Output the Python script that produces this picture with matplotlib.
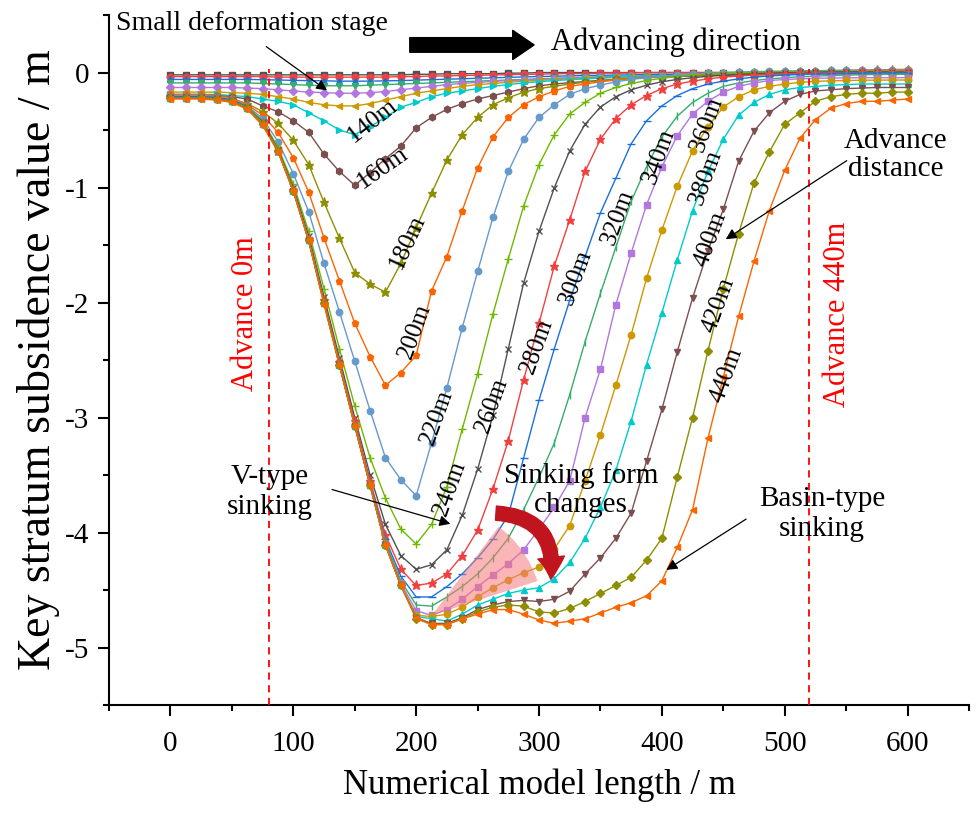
import matplotlib
matplotlib.use("Agg")
import matplotlib.pyplot as plt
import matplotlib.transforms as mtransforms
from matplotlib.patches import Wedge, FancyArrowPatch

plt.rcParams['font.family'] = ['Liberation Serif', 'DejaVu Serif']
plt.rcParams['axes.unicode_minus'] = False

# model length positions (m)
x_model = [0, 12.5, 25, 37.5, 50, 62.5, 75, 87.5, 100, 112.5,
           125, 137.5, 150, 162.5, 175, 187.5, 200, 212.5, 225, 237.5,
           250, 262.5, 275, 287.5, 300, 312.5, 325, 337.5, 350, 362.5,
           375, 387.5, 400, 412.5, 425, 437.5, 450, 462.5, 475, 487.5,
           500, 512.5, 525, 537.5, 550, 562.5, 575, 587.5, 600]

advance = [20, 40, 60, 80, 100, 120, 140, 160, 180, 200, 220,
           240, 260, 280, 300, 320, 340, 360, 380, 400, 420, 440]

s20 = [-0.02, -0.02, -0.02, -0.02, -0.02, -0.02, -0.02, -0.02, -0.02, -0.02,
       -0.02, -0.02, -0.02, -0.02, -0.02, -0.02, -0.015, -0.015, -0.01, -0.01,
       -0.01, -0.01, -0.005, -0.005, 0.0, 0.0, 0.0, 0.0, 0.0, 0.0,
       0.0, 0.0, 0.0, 0.0, 0.0, 0.0, 0.0, 0.0, 0.0, 0.0,
       0.0, 0.0, 0.0, 0.0, 0.0, 0.0, 0.0, 0.0, 0.0]
s40 = [-0.035, -0.035, -0.035, -0.035, -0.035, -0.035, -0.035, -0.04, -0.04, -0.04,
       -0.04, -0.04, -0.04, -0.04, -0.04, -0.035, -0.035, -0.03, -0.03, -0.025,
       -0.025, -0.02, -0.02, -0.015, -0.015, -0.01, -0.01, -0.01, -0.005, -0.005,
       -0.005, 0.0, 0.0, 0.0, 0.0, 0.0, 0.0, 0.0, 0.0, 0.0,
       0.0, 0.0, 0.0, 0.0, 0.0, 0.0, 0.0, 0.0, 0.0]
s60 = [-0.06, -0.06, -0.06, -0.06, -0.06, -0.06, -0.062, -0.065, -0.068, -0.07,
       -0.072, -0.075, -0.075, -0.075, -0.072, -0.07, -0.066, -0.062, -0.058, -0.054,
       -0.05, -0.046, -0.042, -0.038, -0.035, -0.032, -0.029, -0.026, -0.024, -0.022,
       -0.02, -0.018, -0.016, -0.015, -0.014, -0.013, -0.012, -0.011, -0.01, -0.01,
       -0.01, -0.01, -0.009, -0.008, -0.008, -0.007, -0.006, -0.006, -0.005]
s80 = [-0.09, -0.09, -0.09, -0.09, -0.09, -0.09, -0.095, -0.10, -0.105, -0.11,
       -0.115, -0.115, -0.115, -0.11, -0.105, -0.10, -0.095, -0.09, -0.085, -0.08,
       -0.075, -0.07, -0.065, -0.06, -0.055, -0.05, -0.046, -0.042, -0.038, -0.035,
       -0.032, -0.03, -0.028, -0.026, -0.024, -0.022, -0.02, -0.019, -0.018, -0.017,
       -0.016, -0.015, -0.014, -0.013, -0.012, -0.011, -0.01, -0.01, -0.01]
s100 = [-0.13, -0.13, -0.13, -0.13, -0.13, -0.135, -0.14, -0.15, -0.16, -0.17,
        -0.175, -0.18, -0.18, -0.175, -0.165, -0.15, -0.135, -0.12, -0.105, -0.095,
        -0.085, -0.077, -0.07, -0.064, -0.058, -0.053, -0.048, -0.044, -0.04, -0.037,
        -0.034, -0.031, -0.029, -0.027, -0.025, -0.023, -0.021, -0.02, -0.019, -0.018,
        -0.017, -0.016, -0.015, -0.014, -0.013, -0.012, -0.011, -0.01, -0.01]
s120 = [-0.17, -0.17, -0.17, -0.17, -0.175, -0.18, -0.19, -0.21, -0.23, -0.26,
        -0.28, -0.29, -0.29, -0.27, -0.24, -0.21, -0.18, -0.16, -0.14, -0.12,
        -0.105, -0.095, -0.085, -0.075, -0.068, -0.061, -0.055, -0.05, -0.045, -0.041,
        -0.037, -0.034, -0.031, -0.028, -0.026, -0.024, -0.022, -0.02, -0.018, -0.016,
        -0.014, -0.012, -0.01, -0.008, -0.006, -0.005, -0.004, -0.002, 0.0]
s140 = [-0.19, -0.19, -0.19, -0.19, -0.20, -0.21, -0.23, -0.25, -0.28, -0.35,
        -0.42, -0.50, -0.54, -0.47, -0.39, -0.30, -0.26, -0.21, -0.18, -0.16,
        -0.14, -0.12, -0.105, -0.09, -0.08, -0.07, -0.062, -0.055, -0.048, -0.042,
        -0.037, -0.033, -0.029, -0.026, -0.023, -0.02, -0.018, -0.016, -0.014, -0.012,
        -0.01, -0.008, -0.006, -0.004, -0.002, 0.0, 0.0, 0.005, 0.01]
s160 = [-0.20, -0.20, -0.20, -0.20, -0.21, -0.23, -0.29, -0.34, -0.42, -0.52,
        -0.71, -0.86, -0.98, -0.87, -0.75, -0.64, -0.48, -0.39, -0.32, -0.27,
        -0.23, -0.20, -0.17, -0.14, -0.115, -0.10, -0.088, -0.078, -0.068, -0.06,
        -0.052, -0.045, -0.04, -0.035, -0.03, -0.025, -0.02, -0.016, -0.012, -0.008,
        -0.005, -0.002, 0.0, 0.002, 0.004, 0.006, 0.008, 0.01, 0.01]
s180 = [-0.20, -0.20, -0.20, -0.21, -0.23, -0.27, -0.34, -0.44, -0.59, -0.80,
        -1.13, -1.44, -1.74, -1.84, -1.91, -1.66, -1.35, -1.05, -0.76, -0.54,
        -0.39, -0.28, -0.22, -0.17, -0.14, -0.12, -0.10, -0.085, -0.072, -0.06,
        -0.05, -0.042, -0.035, -0.028, -0.022, -0.017, -0.012, -0.008, -0.004, 0.0,
        0.003, 0.006, 0.009, 0.012, 0.014, 0.016, 0.018, 0.019, 0.02]
s200 = [-0.19, -0.19, -0.19, -0.20, -0.22, -0.28, -0.37, -0.52, -0.74, -1.04,
        -1.44, -1.81, -2.18, -2.47, -2.72, -2.61, -2.46, -1.90, -1.60, -1.20,
        -0.83, -0.56, -0.39, -0.28, -0.21, -0.16, -0.12, -0.10, -0.08, -0.065,
        -0.052, -0.042, -0.033, -0.025, -0.018, -0.012, -0.007, -0.003, 0.0, 0.004,
        0.008, 0.011, 0.014, 0.017, 0.02, 0.022, 0.024, 0.026, 0.028]
s220 = [-0.20, -0.20, -0.20, -0.21, -0.23, -0.29, -0.40, -0.60, -0.88, -1.21,
        -1.66, -2.08, -2.51, -2.94, -3.35, -3.54, -3.68, -3.22, -2.74, -2.22,
        -1.73, -1.26, -0.86, -0.58, -0.39, -0.28, -0.19, -0.14, -0.11, -0.08,
        -0.06, -0.045, -0.033, -0.022, -0.013, -0.006, 0.0, 0.004, 0.008, 0.011,
        0.013, 0.015, 0.017, 0.018, 0.019, 0.02, 0.02, 0.021, 0.021]
s240 = [-0.21, -0.21, -0.21, -0.22, -0.24, -0.30, -0.42, -0.65, -0.97, -1.38,
        -1.88, -2.40, -2.90, -3.35, -3.70, -3.97, -4.10, -3.93, -3.60, -3.10,
        -2.62, -2.10, -1.62, -1.16, -0.80, -0.54, -0.36, -0.26, -0.18, -0.13,
        -0.095, -0.07, -0.05, -0.035, -0.023, -0.014, -0.007, -0.002, 0.002, 0.005,
        0.007, 0.009, 0.01, 0.011, 0.012, 0.012, 0.013, 0.013, 0.013]
s260 = [-0.21, -0.21, -0.21, -0.22, -0.24, -0.30, -0.43, -0.67, -1.00, -1.42,
        -1.95, -2.48, -3.00, -3.50, -3.93, -4.20, -4.32, -4.28, -4.15, -3.85,
        -3.45, -2.98, -2.40, -1.83, -1.38, -1.00, -0.68, -0.45, -0.30, -0.21,
        -0.15, -0.11, -0.08, -0.06, -0.045, -0.033, -0.024, -0.017, -0.011, -0.006,
        -0.002, 0.001, 0.003, 0.005, 0.006, 0.007, 0.008, 0.008, 0.008]
s280 = [-0.21, -0.21, -0.21, -0.22, -0.24, -0.30, -0.44, -0.68, -1.02, -1.45,
        -1.98, -2.52, -3.03, -3.55, -4.02, -4.32, -4.46, -4.44, -4.36, -4.20,
        -3.98, -3.62, -3.20, -2.67, -2.18, -1.68, -1.28, -0.86, -0.58, -0.40,
        -0.28, -0.20, -0.14, -0.10, -0.075, -0.055, -0.04, -0.03, -0.022, -0.016,
        -0.011, -0.007, -0.004, -0.002, 0.0, 0.001, 0.002, 0.003, 0.003]
s300 = [-0.21, -0.21, -0.21, -0.22, -0.24, -0.30, -0.44, -0.68, -1.02, -1.46,
        -2.00, -2.54, -3.06, -3.57, -4.06, -4.38, -4.56, -4.56, -4.47, -4.36,
        -4.22, -4.06, -3.85, -3.35, -2.85, -2.40, -1.98, -1.60, -1.22, -0.92,
        -0.62, -0.42, -0.29, -0.20, -0.14, -0.10, -0.075, -0.055, -0.04, -0.03,
        -0.022, -0.016, -0.012, -0.009, -0.007, -0.005, -0.004, -0.003, -0.003]
s320 = [-0.22, -0.22, -0.22, -0.23, -0.25, -0.30, -0.44, -0.68, -1.03, -1.46,
        -2.00, -2.54, -3.07, -3.58, -4.08, -4.42, -4.63, -4.64, -4.56, -4.47,
        -4.36, -4.22, -4.05, -3.80, -3.52, -3.22, -2.80, -2.34, -1.92, -1.52,
        -1.12, -0.82, -0.56, -0.38, -0.26, -0.18, -0.12, -0.09, -0.07, -0.055,
        -0.045, -0.037, -0.031, -0.026, -0.022, -0.019, -0.017, -0.016, -0.015]
s340 = [-0.22, -0.22, -0.22, -0.23, -0.25, -0.31, -0.45, -0.68, -1.03, -1.46,
        -2.00, -2.54, -3.07, -3.59, -4.10, -4.44, -4.68, -4.72, -4.67, -4.58,
        -4.47, -4.37, -4.27, -4.15, -3.97, -3.78, -3.55, -3.00, -2.58, -2.02,
        -1.57, -1.15, -0.82, -0.55, -0.36, -0.25, -0.17, -0.12, -0.09, -0.07,
        -0.06, -0.055, -0.05, -0.048, -0.046, -0.045, -0.045, -0.045, -0.045]
s360 = [-0.22, -0.22, -0.22, -0.23, -0.25, -0.31, -0.45, -0.68, -1.03, -1.46,
        -2.00, -2.54, -3.07, -3.59, -4.11, -4.46, -4.72, -4.73, -4.71, -4.65,
        -4.56, -4.48, -4.41, -4.35, -4.30, -4.14, -3.94, -3.55, -3.15, -2.72,
        -2.28, -1.79, -1.37, -0.99, -0.68, -0.47, -0.30, -0.21, -0.15, -0.12,
        -0.10, -0.085, -0.077, -0.072, -0.069, -0.067, -0.066, -0.065, -0.065]
s380 = [-0.22, -0.22, -0.22, -0.23, -0.25, -0.31, -0.45, -0.68, -1.03, -1.46,
        -2.00, -2.54, -3.07, -3.59, -4.11, -4.46, -4.73, -4.75, -4.77, -4.71,
        -4.63, -4.58, -4.53, -4.50, -4.48, -4.40, -4.26, -4.05, -3.78, -3.46,
        -3.03, -2.54, -2.09, -1.63, -1.20, -0.86, -0.58, -0.37, -0.26, -0.19,
        -0.15, -0.13, -0.12, -0.11, -0.105, -0.10, -0.10, -0.10, -0.10]
s400 = [-0.22, -0.22, -0.22, -0.23, -0.25, -0.31, -0.45, -0.68, -1.03, -1.46,
        -2.00, -2.54, -3.07, -3.59, -4.11, -4.46, -4.74, -4.79, -4.79, -4.74,
        -4.67, -4.63, -4.60, -4.59, -4.60, -4.58, -4.51, -4.36, -4.22, -4.05,
        -3.83, -3.38, -2.93, -2.43, -1.96, -1.55, -1.19, -0.77, -0.51, -0.35,
        -0.25, -0.19, -0.16, -0.15, -0.14, -0.135, -0.13, -0.13, -0.13]
s420 = [-0.22, -0.22, -0.22, -0.23, -0.25, -0.31, -0.45, -0.68, -1.03, -1.46,
        -2.00, -2.54, -3.07, -3.59, -4.11, -4.46, -4.75, -4.80, -4.80, -4.75,
        -4.69, -4.65, -4.63, -4.64, -4.69, -4.70, -4.66, -4.60, -4.53, -4.46,
        -4.39, -4.24, -4.05, -3.52, -3.00, -2.42, -1.88, -1.40, -0.96, -0.69,
        -0.45, -0.35, -0.25, -0.21, -0.19, -0.18, -0.18, -0.17, -0.17]
s440 = [-0.23, -0.23, -0.23, -0.24, -0.26, -0.32, -0.46, -0.69, -1.03, -1.46,
        -2.02, -2.54, -3.07, -3.59, -4.11, -4.46, -4.74, -4.80, -4.80, -4.75,
        -4.71, -4.67, -4.67, -4.71, -4.76, -4.79, -4.77, -4.75, -4.70, -4.65,
        -4.61, -4.55, -4.42, -4.13, -3.80, -3.18, -2.65, -2.12, -1.64, -1.20,
        -0.85, -0.57, -0.41, -0.31, -0.27, -0.25, -0.25, -0.24, -0.23]

series = [s20, s40, s60, s80, s100, s120, s140, s160, s180, s200, s220,
          s240, s260, s280, s300, s320, s340, s360, s380, s400, s420, s440]

palette = ['#515151', '#F14040', '#1A6FDF', '#37AD6B', '#B177DE', '#CC9900',
           '#00CBCC', '#7D4E4E', '#8E8E00', '#FB6501', '#6699CC', '#6FB802']
markers = ['s', 'o', '^', 'v', 'D', '<', '>', 'h', '*', 'p', 'o', '+',
           'x', '*', '_', '|']
marker_size = {'s': 4.4, 'o': 4.6, '^': 4.8, 'v': 4.8, 'D': 3.8, '<': 4.8,
               '>': 4.8, 'h': 4.8, '*': 6.5, 'p': 4.8, '+': 5.5, 'x': 5.0,
               '_': 5.5, '|': 5.5}

# curve labels: text, x, y, rotation
curve_labels = [('140m', 164.5, -0.42, 38), ('160m', 172.7, -0.83, 35),
                ('180m', 193.0, -1.47, 65), ('200m', 198.9, -2.25, 70),
                ('220m', 217.0, -3.00, 70), ('240m', 227.5, -3.61, 70),
                ('260m', 261.9, -2.89, 70), ('280m', 298.0, -2.38, 70),
                ('300m', 329.8, -1.78, 70), ('320m', 364.0, -1.26, 70),
                ('340m', 397.5, -0.73, 70), ('360m', 437.0, -0.45, 70),
                ('380m', 436.0, -0.91, 70), ('400m', 439.4, -1.45, 70),
                ('420m', 446.0, -2.02, 70), ('440m', 452.6, -2.63, 70)]

fig = plt.figure(figsize=(9.78, 8.13), dpi=100)
ax = fig.add_axes([0.1115, 0.1328, 0.8793, 0.8487])
ax.set_xlim(-50, 650)
ax.set_ylim(-5.5, 0.5)

for i, (adv, ys) in enumerate(zip(advance, series)):
    c = palette[i % 12]
    m = markers[i % 16]
    ax.plot(x_model, ys, color=c, lw=1.0, marker=m, ms=marker_size[m], mew=1.0,
            mfc=c, mec=c, zorder=2 + i * 0.01)

# pink sector showing the change of sinking form
cx, cy = ax.transData.transform((212.8, -4.72))
wedge = Wedge((0, 0), 111, 18, 53, facecolor='#F77B7B', edgecolor='none',
              alpha=0.55, zorder=4,
              transform=mtransforms.Affine2D().translate(cx, cy))
ax.add_patch(wedge)

ax.vlines([80, 520], -5.5, 0.03, colors='red', linestyles=(0, (4, 3)), lw=1.3, zorder=3)

for txt, lx, ly, rot in curve_labels:
    ax.text(lx, ly, txt, fontsize=18, rotation=rot, ha='center', va='center',
            rotation_mode='anchor', zorder=5)

ax.text(61.4, -2.1, 'Advance 0m', color='red', fontsize=22, rotation=90,
        ha='center', va='center')
ax.text(542.6, -2.1, 'Advance 440m', color='red', fontsize=22, rotation=90,
        ha='center', va='center')

ax.text(66, 0.43, 'Small deformation stage', fontsize=20, ha='center', va='center')
ax.annotate('', xy=(129.3, -0.17), xytext=(76.1, 0.24),
            arrowprops=dict(arrowstyle='-|>', color='black', lw=0.9,
                            mutation_scale=16))

ax.annotate('', xy=(296, 0.24), xytext=(194.8, 0.24),
            arrowprops=dict(arrowstyle='simple,head_width=1.5,head_length=1.1,tail_width=0.75',
                            color='black', mutation_scale=14, shrinkA=0, shrinkB=0))
ax.text(411.6, 0.265, 'Advancing direction', fontsize=22, ha='center', va='center')

ax.text(590, -0.72, 'Advance\ndistance', fontsize=21, ha='center', va='center',
        linespacing=1.1)
ax.annotate('', xy=(450.1, -1.463), xytext=(552.4, -0.753),
            arrowprops=dict(arrowstyle='-|>', color='black', lw=0.9,
                            mutation_scale=16))

ax.text(81, -3.65, 'V-type\nsinking', fontsize=21, ha='center', va='center',
        linespacing=1.2)
ax.annotate('', xy=(230, -3.931), xytext=(129.3, -3.619),
            arrowprops=dict(arrowstyle='-|>', color='black', lw=0.9,
                            mutation_scale=16))

ax.text(334, -3.63, 'Sinking form\nchanges', fontsize=21, ha='center', va='center',
        linespacing=1.15)

ax.text(530.3, -3.84, 'Basin-type\nsinking', fontsize=21, ha='center', va='center',
        linespacing=1.2)
ax.annotate('', xy=(401.8, -4.338), xytext=(470.5, -3.87),
            arrowprops=dict(arrowstyle='-|>', color='black', lw=0.9,
                            mutation_scale=16))

red_arrow = FancyArrowPatch((262.7, -3.83), (309.3, -4.43),
                            connectionstyle='arc3,rad=-0.55',
                            arrowstyle='simple,head_width=1.6,head_length=1.3,tail_width=0.85',
                            mutation_scale=12, color='#C0141E', zorder=6)
ax.add_patch(red_arrow)

ax.spines['top'].set_visible(False)
ax.spines['right'].set_visible(False)
ax.spines['left'].set_linewidth(1.5)
ax.spines['bottom'].set_linewidth(1.5)

ax.set_xticks([0, 100, 200, 300, 400, 500, 600])
ax.set_xticks([-50, 50, 150, 250, 350, 450, 550, 650], minor=True)
ax.set_yticks([-5, -4, -3, -2, -1, 0])
ax.set_yticks([-5.5, -4.5, -3.5, -2.5, -1.5, -0.5, 0.5], minor=True)
ax.set_yticklabels(['-5', '-4', '-3', '-2', '-1', '0'])
ax.tick_params(axis='both', which='major', direction='out', length=8, width=1.5,
               labelsize=21)
ax.tick_params(axis='both', which='minor', direction='out', length=4.5, width=1.5)
ax.tick_params(axis='x', which='major', pad=11)
ax.tick_params(axis='y', which='major', pad=6)

ax.set_xlabel('Numerical model length / m', fontsize=25, labelpad=8)
ax.set_ylabel('Key stratum subsidence value / m', fontsize=33, labelpad=4)

fig.savefig('out.png', dpi=100)
